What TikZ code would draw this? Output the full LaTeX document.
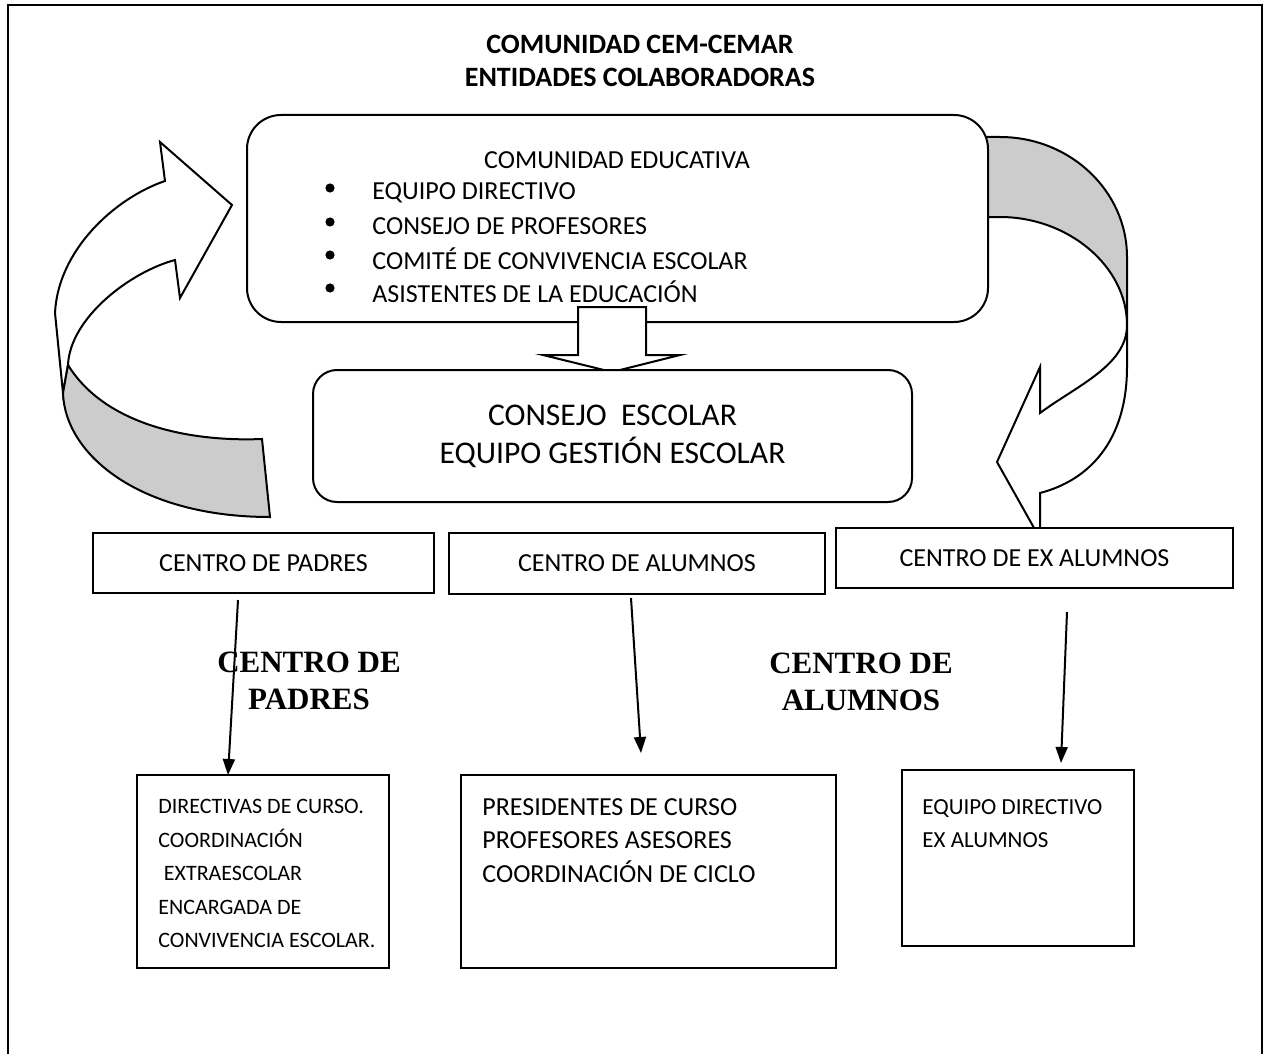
\documentclass[tikz,border=0pt]{standalone}
\usepackage{fontspec}
\setmainfont{Carlito}
\newfontfamily\labelserif{Liberation Serif}
\usetikzlibrary{arrows.meta}

\begin{document}
\begin{tikzpicture}[x=0.5pt,y=-0.5pt]
        \tikzstyle{every node}=[font=\fontsize{13}{16.75}\selectfont]
        \tikzstyle{box}=[draw,line width=1pt,fill=white,inner sep=0pt]
        \tikzstyle{roundbox}=[box,rounded corners=17pt]
        \tikzstyle{lista}=[inner sep=0pt,align=left,anchor=north west]
        \tikzstyle{band}=[draw,line width=1pt,fill=black!20]
        \tikzstyle{front}=[draw,line width=1pt,fill=white]
        \tikzstyle{link}=[line width=1pt,-{Triangle[length=8pt,width=6pt]}]
        \tikzstyle{sello}=[font=\labelserif\bfseries\fontsize{15.5}{18.5}\selectfont,align=center,inner sep=0pt]

        \useasboundingbox (0,0) rectangle (1264,1054);
        \draw[line width=1pt] (8,1054) -- (8,5) -- (1262,5) -- (1262,1054);

        \node[font=\bfseries\fontsize{14}{16}\selectfont] (titulo) at (640,44) {COMUNIDAD CEM-CEMAR};
        \node[font=\bfseries\fontsize{14}{16}\selectfont] (subtitulo) at (640,77) {ENTIDADES COLABORADORAS};

        % flecha curva derecha, parte de atras
        \path[band] (950,137) -- (1000,137) .. controls (1070,137) and (1127,191) .. (1127,257)
            -- (1127,325) .. controls (1127,266) and (1068,217) .. (1000,217) -- (950,217) -- cycle;

        \node[roundbox,minimum width=370.5pt,minimum height=103.5pt] (comunidad) at (617.5,218.5) {};
        \node (comunidadTxt) at (617,160) {COMUNIDAD EDUCATIVA};
        \fill (330,188) circle[radius=2.3pt];
        \fill (330,222) circle[radius=2.3pt];
        \fill (330,255) circle[radius=2.3pt];
        \fill (330,288) circle[radius=2.3pt];
        \node[anchor=west,inner sep=0pt] (item1) at (372,193) {EQUIPO DIRECTIVO};
        \node[anchor=west,inner sep=0pt] (item2) at (372,226) {CONSEJO DE PROFESORES};
        \node[anchor=west,inner sep=0pt] (item3) at (372,259) {COMITÉ DE CONVIVENCIA ESCOLAR};
        \node[anchor=west,inner sep=0pt] (item4) at (372,292) {ASISTENTES DE LA EDUCACIÓN};

        % flecha de bloque hacia abajo
        \path[front] (578,307) -- (646,307) -- (646,355) -- (680,355) -- (612,372)
            -- (543,355) -- (578,355) -- cycle;

        \node[roundbox,rounded corners=12pt,minimum width=299.5pt,minimum height=66pt,
            align=center,font=\fontsize{15.8}{19}\selectfont] (consejo) at (612.5,436)
            {CONSEJO\ \ ESCOLAR\\EQUIPO GESTIÓN ESCOLAR};

        % flecha curva izquierda
        \path[front] (165,181) -- (160,142) -- (232,205) -- (180,298) -- (175,260)
            .. controls (130,272) and (70,318) .. (68,365) -- (63,393) -- (55,313)
            .. controls (58,250) and (115,198) .. (165,181) -- cycle;
        \path[band] (68,365) .. controls (105,425) and (190,442) .. (262,439) -- (270,517)
            .. controls (140,517) and (65,455) .. (63,393) -- cycle;

        % flecha curva derecha, parte de adelante
        \path[front] (1127,325) .. controls (1127,365) and (1078,385) .. (1040,413)
            -- (1040,367) -- (997,462) -- (1038,535) -- (1040,535) -- (1040,493)
            .. controls (1090,480) and (1127,440) .. (1127,367) -- cycle;

        \node[box,minimum width=170.5pt,minimum height=30pt] (padres) at (263.5,563) {CENTRO DE PADRES};
        \node[box,minimum width=188pt,minimum height=30.5pt] (alumnos) at (637,563.5) {CENTRO DE ALUMNOS};
        \node[box,minimum width=198.5pt,minimum height=30pt] (exalumnos) at (1034.5,558) {CENTRO DE EX ALUMNOS};

        \node[box,minimum width=126pt,minimum height=96.5pt] (padresSub) at (263,871.5) {};
        \node[box,minimum width=187.5pt,minimum height=96.5pt] (alumnosSub) at (648.5,871.5) {};
        \node[box,minimum width=116pt,minimum height=88pt] (exalumnosSub) at (1018,858) {};

        \node[lista,font=\fontsize{11}{16.75}\selectfont] (padresLista) at (158,799)
            {DIRECTIVAS DE CURSO.\\COORDINACIÓN\\\hspace{0.25em}EXTRAESCOLAR\\ENCARGADA DE\\CONVIVENCIA ESCOLAR.};
        \node[lista] (alumnosLista) at (482,798)
            {PRESIDENTES DE CURSO\\PROFESORES ASESORES\\COORDINACIÓN DE CICLO};
        \node[lista,font=\fontsize{11.5}{16.75}\selectfont] (exalumnosLista) at (922,799)
            {EQUIPO DIRECTIVO\\EX ALUMNOS};

        \node[sello] (selloPadres) at (309,681) {CENTRO DE\\PADRES};
        \node[sello] (selloAlumnos) at (861,682) {CENTRO DE\\ALUMNOS};

        \coordinate (padresOut) at (238,600);
        \coordinate (padresIn) at (228,775);
        \coordinate (alumnosOut) at (631,598);
        \coordinate (alumnosIn) at (641,753);
        \coordinate (exalumnosOut) at (1067,612);
        \coordinate (exalumnosIn) at (1061,763);
        \draw[link] (padresOut) -- (padresIn);
        \draw[link] (alumnosOut) -- (alumnosIn);
        \draw[link] (exalumnosOut) -- (exalumnosIn);
\end{tikzpicture}
\end{document}
